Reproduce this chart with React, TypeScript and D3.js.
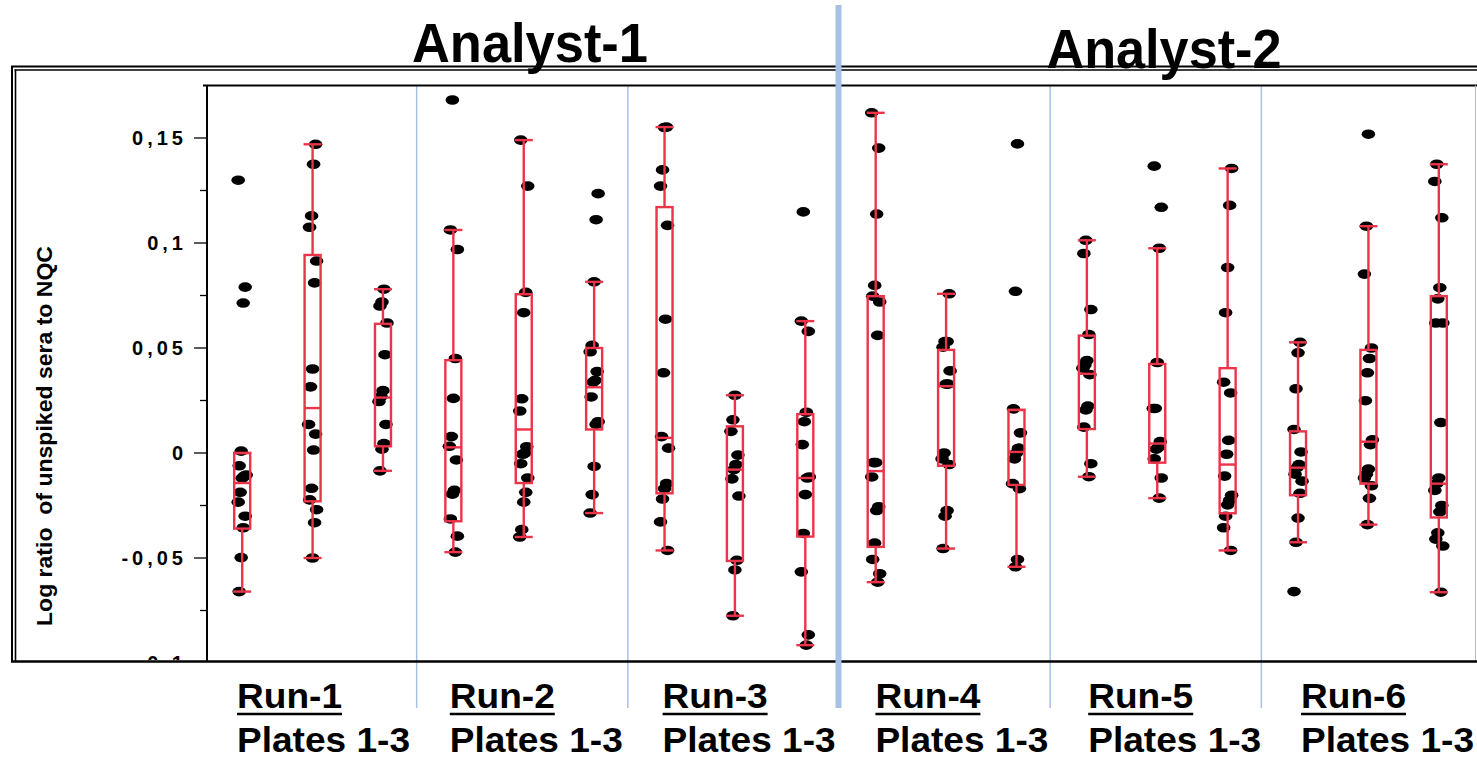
import React from "react";
import * as d3 from "d3";

// ---- data ----
const analysts = ["Analyst-1", "Analyst-2"];
const runs = ["Run-1", "Run-2", "Run-3", "Run-4", "Run-5", "Run-6"];
const plateCaption = "Plates 1-3";
const plates = runs.flatMap((r) => [1, 2, 3].map((p) => `${r} / Plate ${p}`));

// log ratio of unspiked sera to NQC, one array per plate (3 plates per run)
const ratios: number[][] = [
  [0.1299, 0.079, 0.0714, 0.0009, -0.0061, -0.0105, -0.011, -0.012, -0.0187, -0.0234, -0.0301, -0.0356, -0.0498, -0.066],
  [0.147, 0.1375, 0.1129, 0.1075, 0.0914, 0.081, 0.04, 0.0315, 0.0136, 0.009, 0.0014, -0.0168, -0.0223, -0.027, -0.0332, -0.05],
  [0.078, 0.0719, 0.07, 0.0619, 0.0468, 0.0297, 0.0269, 0.0245, 0.0136, 0.0045, 0.0018, -0.0085],
  [0.1681, 0.1062, 0.0969, 0.045, 0.026, 0.0078, 0.0032, -0.0033, -0.0178, -0.0196, -0.0314, -0.0396, -0.0472],
  [0.149, 0.1271, 0.0765, 0.0668, 0.0258, 0.02, 0.003, 0.0, -0.0006, -0.0051, -0.0119, -0.0187, -0.0234, -0.0365, -0.04],
  [0.1235, 0.1111, 0.0815, 0.0513, 0.0482, 0.0388, 0.0346, 0.0337, 0.0267, 0.0149, 0.0136, -0.0064, -0.0198, -0.0286],
  [0.1552, 0.155, 0.1348, 0.1271, 0.1084, 0.0637, 0.0382, 0.0078, 0.0023, -0.0146, -0.017, -0.0219, -0.0328, -0.0464],
  [0.0275, 0.0158, 0.0103, -0.001, -0.0055, -0.0079, -0.0123, -0.0205, -0.0511, -0.0557, -0.0775],
  [0.1148, 0.0628, 0.0579, 0.0194, 0.0149, 0.004, -0.0114, -0.0119, -0.0198, -0.0383, -0.0566, -0.0866, -0.0915],
  [0.162, 0.1452, 0.1138, 0.0798, 0.0747, 0.0719, 0.056, -0.0046, -0.0046, -0.0114, -0.0256, -0.0274, -0.0429, -0.0507, -0.0575, -0.0615],
  [0.0758, 0.0531, 0.0531, 0.0504, 0.0391, 0.0328, 0.0328, 0.0, -0.0028, -0.0055, -0.0274, -0.0301, -0.0455],
  [0.1472, 0.077, 0.021, 0.0096, 0.0023, 0.0, -0.0028, -0.0146, -0.017, -0.0507, -0.0542],
  [0.1013, 0.095, 0.0683, 0.0564, 0.044, 0.0419, 0.0404, 0.0373, 0.0223, 0.0205, 0.0123, -0.0051, -0.0113],
  [0.1366, 0.117, 0.0975, 0.0431, 0.0212, 0.0212, 0.0054, 0.0027, 0.0018, -0.0028, -0.0119, -0.0215],
  [0.1355, 0.1179, 0.0883, 0.0668, 0.0337, 0.0286, 0.006, -0.0006, -0.011, -0.0201, -0.0225, -0.0247, -0.0301, -0.0356, -0.0464],
  [0.0527, 0.0477, 0.0306, 0.0112, 0.0005, -0.0055, -0.007, -0.0101, -0.0134, -0.0192, -0.031, -0.0425, -0.066],
  [0.1518, 0.108, 0.0852, 0.05, 0.045, 0.0382, 0.0249, 0.0063, 0.004, -0.0077, -0.0101, -0.0119, -0.0156, -0.0216, -0.0341],
  [0.1375, 0.1293, 0.112, 0.0787, 0.0734, 0.0619, 0.0619, 0.0145, -0.0119, -0.0146, -0.0178, -0.025, -0.028, -0.038, -0.041, -0.0443, -0.0663],
];

// box-plot summaries per plate
const whiskerLow = [-0.066, -0.05, -0.0085, -0.0472, -0.04, -0.0286, -0.0464, -0.0775, -0.0915, -0.0615, -0.0455, -0.0542, -0.0113, -0.0215, -0.0464, -0.0425, -0.0341, -0.0663];
const quartile1 = [-0.036, -0.023, 0.0032, -0.0325, -0.0143, 0.0112, -0.0192, -0.0514, -0.0398, -0.0447, -0.0061, -0.0152, 0.0114, -0.0046, -0.0287, -0.0201, -0.0146, -0.0307];
const medians = [-0.0143, 0.0214, 0.0264, 0.0027, 0.0112, 0.0313, 0.0072, -0.0079, -0.0119, -0.0086, 0.0318, 0.0005, 0.0377, 0.0045, -0.0055, -0.007, 0.0054, -0.0146];
const quartile3 = [0.0, 0.0943, 0.0615, 0.0442, 0.0756, 0.05, 0.1171, 0.0127, 0.0185, 0.0747, 0.0491, 0.0205, 0.0559, 0.0424, 0.0404, 0.0103, 0.0491, 0.0747];
const whiskerHigh = [0.0, 0.147, 0.078, 0.1062, 0.149, 0.0815, 0.1552, 0.0275, 0.0628, 0.162, 0.0758, 0.0205, 0.1013, 0.0975, 0.1355, 0.0527, 0.108, 0.1375];

const majorTicks = [-0.1, -0.05, 0, 0.05, 0.1, 0.15];
const majorTickLabels = ["-0,1", "-0,05", "0", "0,05", "0,1", "0,15"];
const minorTicks = [-0.075, -0.025, 0.025, 0.075, 0.125];
const yTitle = "Log ratio  of unspiked sera to NQC";

// ---- layout ----
const W = 1477;
const H = 758;
const plotLeft = 207;
const plotRight = 1474;
const plotTop = 85.5;
const plotBottom = 661;

const RED = "#ea3449";
const BLUE = "#a7c0e6";
const FONT = "'Liberation Sans', Arial, Helvetica, sans-serif";

const x = d3.scaleBand<string>().domain(plates).range([plotLeft, plotRight]).paddingInner(0);
const y = d3.scaleLinear().domain([-0.1, 0.175]).range([663, plotTop]);
const runLabelX = d3.scaleLinear().domain([0, runs.length - 1]).range([237, 1301]);

// small deterministic horizontal spread so coincident points stay visible
const jitter = (i: number) => (((i * 7) % 9) - 4) * 1.0;

export default function App() {
  const bw = x.bandwidth();
  const boxW = 16;
  const capW = 18;
  const runStarts = runs.map((_, r) => x(plates[r * 3]) as number);
  const analystSplit = runStarts[3];

  return (
    <svg
      width={W}
      height={H}
      viewBox={`0 0 ${W} ${H}`}
      style={{ position: "absolute", left: 0, top: 0, background: "#fff" }}
      fontFamily={FONT}
    >
      <defs>
        <clipPath id="plot-clip">
          <rect x={0} y={0} width={W} height={plotBottom - 1} />
        </clipPath>
      </defs>
      <rect x={0} y={0} width={W} height={H} fill="#fff" />

      {/* analyst titles */}
      <text x={530} y={62} fontSize={55} fontWeight="bold" textAnchor="middle" textLength={236} lengthAdjust="spacingAndGlyphs">
        {analysts[0]}
      </text>
      <text x={1164} y={68} fontSize={55} fontWeight="bold" textAnchor="middle" textLength={235} lengthAdjust="spacingAndGlyphs">
        {analysts[1]}
      </text>

      {/* outer double frame */}
      <line x1={11} x2={W} y1={66.5} y2={66.5} stroke="#000" strokeWidth={2} />
      <line x1={14.5} x2={W} y1={70} y2={70} stroke="#000" strokeWidth={1.6} />
      <line x1={12} x2={12} y1={66} y2={662} stroke="#000" strokeWidth={2} />
      <line x1={15.5} x2={15.5} y1={69.5} y2={662} stroke="#000" strokeWidth={1.6} />

      {/* thin run separators */}
      {runStarts.slice(1).map((sx, i) =>
        i === 2 ? null : (
          <line key={`sep${i}`} x1={sx - 1.5} x2={sx - 1.5} y1={plotTop} y2={708} stroke={BLUE} strokeWidth={1.5} />
        )
      )}

      {/* y axis ticks and labels */}
      <g clipPath="url(#plot-clip)">
        {majorTicks.map((t, i) => (
          <g key={`mt${i}`}>
            <line x1={plotLeft - 13} x2={plotLeft} y1={y(t)} y2={y(t)} stroke="#000" strokeWidth={1.3} />
            <text
              x={187}
              y={y(t)}
              dy="0.36em"
              fontSize={20}
              fontWeight="bold"
              letterSpacing={4}
              textAnchor="end"
            >
              {majorTickLabels[i]}
            </text>
          </g>
        ))}
        {minorTicks.map((t, i) => (
          <line key={`mn${i}`} x1={plotLeft - 7} x2={plotLeft} y1={y(t)} y2={y(t)} stroke="#000" strokeWidth={1.3} />
        ))}
      </g>

      {/* y title */}
      <text
        x={52}
        y={436}
        transform="rotate(-90 52 436)"
        fontSize={22}
        fontWeight="bold"
        textAnchor="middle"
        textLength={380}
        lengthAdjust="spacingAndGlyphs"
        style={{ whiteSpace: "pre" }}
      >
        {yTitle}
      </text>

      {/* plot frame */}
      <line x1={plotLeft - 4} x2={W} y1={plotTop} y2={plotTop} stroke="#000" strokeWidth={2} />
      <line x1={plotLeft} x2={plotLeft} y1={plotTop} y2={plotBottom} stroke="#000" strokeWidth={2} />
      <line x1={W - 1.5} x2={W - 1.5} y1={plotTop} y2={plotBottom} stroke="#bbb" strokeWidth={1} />
      <line x1={11} x2={W} y1={plotBottom + 0.5} y2={plotBottom + 0.5} stroke="#000" strokeWidth={2.6} />

      {/* points */}
      {ratios.map((vals, p) => {
        const cx = (x(plates[p]) as number) + bw / 2;
        return (
          <g key={`pts${p}`}>
            {vals.map((v, i) => (
              <ellipse key={i} cx={cx + jitter(i + p)} cy={y(v)} rx={6.8} ry={4.8} fill="#000" />
            ))}
          </g>
        );
      })}

      {/* boxes */}
      {plates.map((pl, p) => {
        const cx = (x(pl) as number) + bw / 2;
        return (
          <g key={`box${p}`} stroke={RED} fill="none" strokeWidth={2.4}>
            <line x1={cx} x2={cx} y1={y(whiskerHigh[p])} y2={y(quartile3[p])} />
            <line x1={cx} x2={cx} y1={y(quartile1[p])} y2={y(whiskerLow[p])} />
            <line x1={cx - capW / 2} x2={cx + capW / 2} y1={y(whiskerHigh[p])} y2={y(whiskerHigh[p])} />
            <line x1={cx - capW / 2} x2={cx + capW / 2} y1={y(whiskerLow[p])} y2={y(whiskerLow[p])} />
            <rect
              x={cx - boxW / 2}
              y={y(quartile3[p])}
              width={boxW}
              height={y(quartile1[p]) - y(quartile3[p])}
            />
            <line x1={cx - boxW / 2} x2={cx + boxW / 2} y1={y(medians[p])} y2={y(medians[p])} />
          </g>
        );
      })}

      {/* analyst divider */}
      <line x1={analystSplit - 2} x2={analystSplit - 2} y1={5} y2={708} stroke={BLUE} strokeWidth={6} />

      {/* run labels */}
      {runs.map((r, i) => {
        const lx = runLabelX(i);
        return (
          <g key={`rl${i}`}>
            <text x={lx} y={708} fontSize={35} fontWeight="bold" textLength={105} lengthAdjust="spacingAndGlyphs">
              {r}
            </text>
            <line x1={lx} x2={lx + 105} y1={714} y2={714} stroke="#000" strokeWidth={2.4} />
            <text x={lx} y={752} fontSize={35} fontWeight="bold" textLength={173} lengthAdjust="spacingAndGlyphs">
              {plateCaption}
            </text>
          </g>
        );
      })}
    </svg>
  );
}
